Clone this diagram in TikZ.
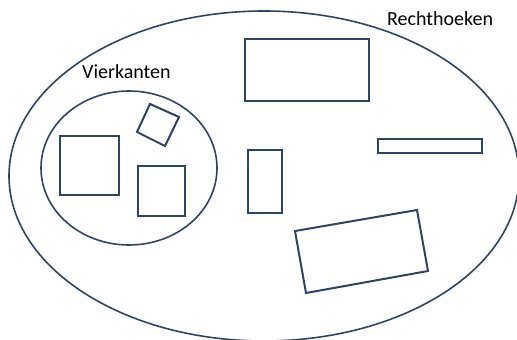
\documentclass[tikz,border=0pt]{standalone}
\usepackage{fontspec}
\setmainfont{Carlito}
\definecolor{setline}{RGB}{47,68,96}
\usepackage{tikz}

\begin{document}
\begin{tikzpicture}[x=1pt,y=-1pt,
    vorm/.style={setline,line width=2pt},
    verz/.style={setline,line width=1.6pt},
    naam/.style={font=\fontsize{20}{22}\selectfont,anchor=base west,inner sep=0pt}]
        \useasboundingbox (0,0) rectangle (517,340);
        \clip (0,0) rectangle (517,340);
        % verzamelingen
        \draw[verz] (264,176) ellipse (255 and 165);
        \draw[verz] (129,168) ellipse (88 and 77);
        \node[naam] (rechthoeken) at (387,25) {Rechthoeken};
        \node[naam] (vierkanten) at (82,78) {Vierkanten};
        % vierkanten
        \draw[vorm] (60,136) rectangle (119,195);
        \draw[vorm] (138,166) rectangle (185,216);
        \draw[vorm] (150,104) -- (179,117) -- (165,146) -- (137,132) -- cycle;
        % rechthoeken
        \draw[vorm] (245,39) rectangle (369,101);
        \draw[vorm] (378,139) rectangle (482,153);
        \draw[vorm] (248,150) rectangle (282,213);
        \draw[vorm] (295,231) -- (417,210) -- (428,271) -- (306,293) -- cycle;
      \end{tikzpicture}
\end{document}
